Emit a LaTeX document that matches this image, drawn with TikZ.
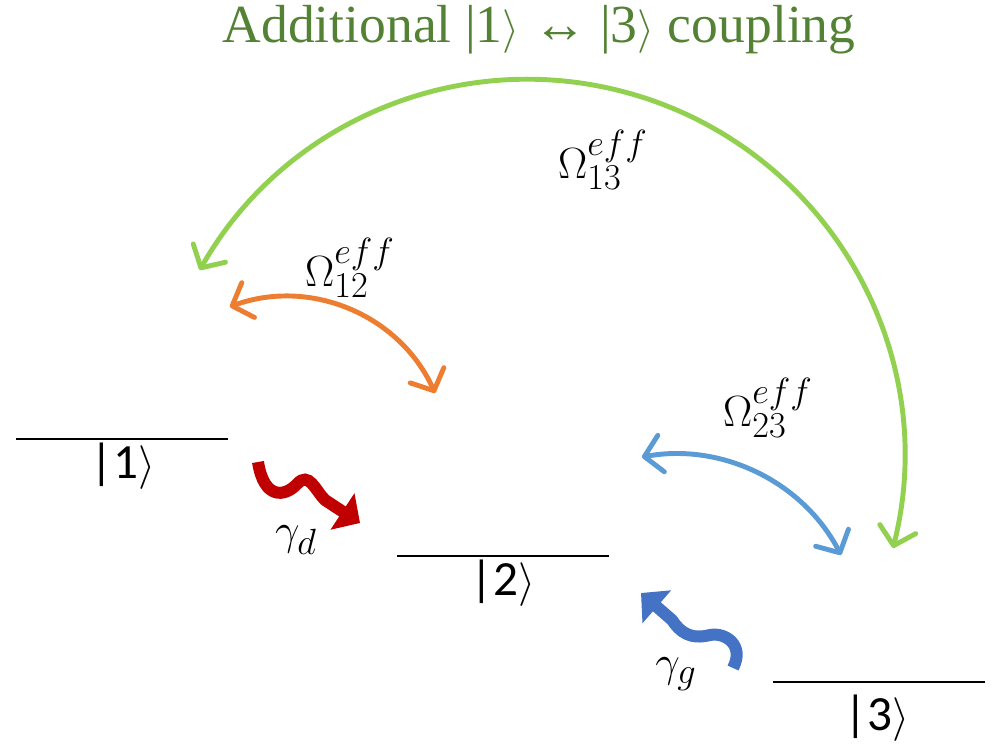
\documentclass[tikz,border=0pt]{standalone}
\usepackage{fontspec}
\setmainfont{Carlito}
\newfontfamily\titlefont{Liberation Serif}
\usetikzlibrary{arrows.meta}

\definecolor{titlegreen}{HTML}{548235}
\definecolor{arcgreen}{HTML}{92D050}
\definecolor{arcorange}{HTML}{ED7D31}
\definecolor{arcblue}{HTML}{5B9BD5}
\definecolor{decayred}{HTML}{C00000}
\definecolor{decayblue}{HTML}{4472C4}

\begin{document}
\begin{tikzpicture}[x=0.02cm,y=-0.02cm,
    level/.style={line width=1.2pt},
    big/.style={font=\fontsize{28}{32}\selectfont, inner sep=0pt},
    coup/.style={line width=2.8pt,
      {Straight Barb[length=3.4mm,width=7.4mm,line join=round,line cap=round]}-{Straight Barb[length=3.4mm,width=7.4mm,line join=round,line cap=round]}},
    wave/.style={line width=0.24cm, -{Triangle[length=0.42cm,width=0.85cm]}}
  ]
  \useasboundingbox (0,0) rectangle (999,749);

  % title
  \node[font=\titlefont\fontsize{30.5}{36}\selectfont, text=titlegreen, inner sep=0pt] (title) at (539,30) {Additional |1$\rangle$ ↔ |3$\rangle$ coupling};

  % levels
  \coordinate (l1a) at (16,439);  \coordinate (l1b) at (228,439);
  \coordinate (l2a) at (397,556); \coordinate (l2b) at (609,556);
  \coordinate (l3a) at (773,682); \coordinate (l3b) at (985,682);
  \draw[level] (l1a) -- (l1b);
  \draw[level] (l2a) -- (l2b);
  \draw[level] (l3a) -- (l3b);
  \node[big] (k1) at (123,466) {|1$\rangle$};
  \node[big] (k2) at (503,583) {|2$\rangle$};
  \node[big] (k3) at (877,718) {|3$\rangle$};

  % couplings
  \coordinate (g13) at (893,548);
  \coordinate (o12) at (435,393);
  \coordinate (b23) at (841,555);
  \draw[coup, arcgreen] (g13) arc[start angle=-14.1, end angle=150.4, radius=7.54cm];
  \draw[coup, arcorange] (o12) arc[start angle=24.3, end angle=110.1, radius=3.27cm];
  \draw[coup, arcblue] (b23) arc[start angle=27.4, end angle=100.2, radius=3.74cm];
  \node[big] (om13) at (603,160) {$\Omega_{13}^{eff}$};
  \node[big] (om12) at (350,268) {$\Omega_{12}^{eff}$};
  \node[big] (om23) at (768,408) {$\Omega_{23}^{eff}$};

  % decays
  \coordinate (rd0) at (258,462);
  \coordinate (rd1) at (360,523);
  \coordinate (bg0) at (733,668);
  \coordinate (bg1) at (641,593);
  \draw[wave, decayred] (rd0) .. controls (264,500) and (285,497) .. (297,484)
    .. controls (309,471) and (315,490) .. (325,500) -- (rd1);
  \draw[wave, decayblue] (bg0) .. controls (745,645) and (725,632) .. (710,635)
    .. controls (690,640) and (680,632) .. (672,620) -- (bg1);
  \node[big] (gd) at (296,540) {$\gamma_d$};
  \node[big] (gg) at (676,674) {$\gamma_g$};
\end{tikzpicture}
\end{document}
